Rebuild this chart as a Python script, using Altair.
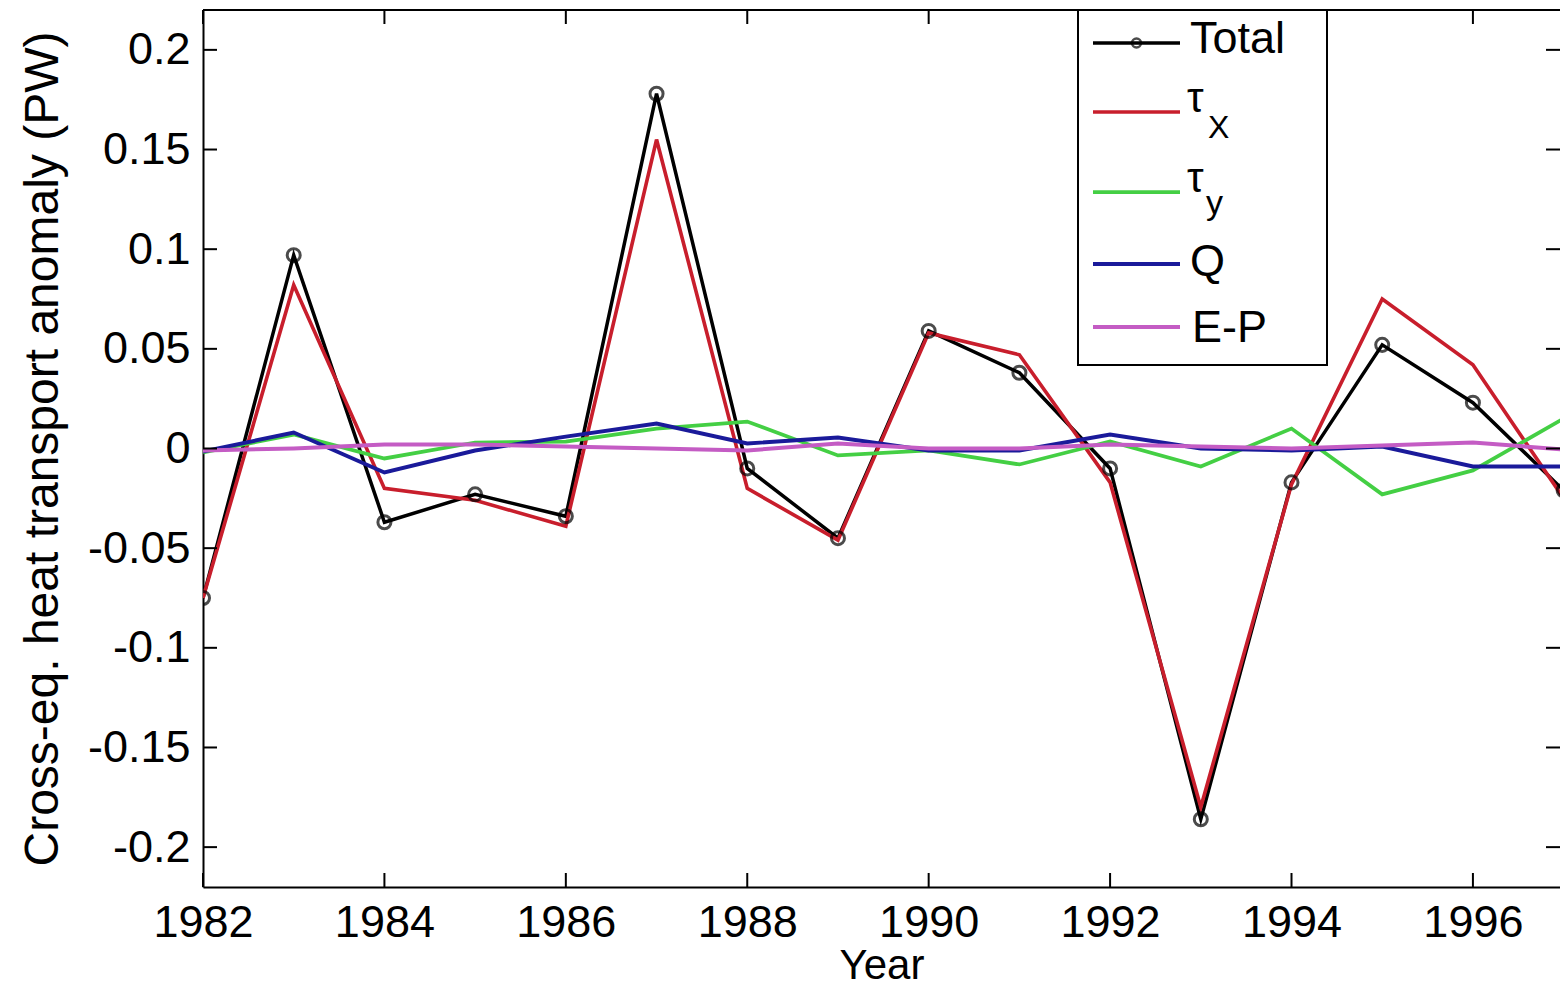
import altair as alt
import pandas as pd

# ---------------- data ----------------
years = list(range(1982, 1998))
total = [-0.075, 0.097, -0.037, -0.023, -0.034, 0.178, -0.010, -0.045,
         0.059, 0.038, -0.010, -0.186, -0.017, 0.052, 0.023, -0.021]
tau_x = [-0.075, 0.082, -0.020, -0.026, -0.039, 0.155, -0.020, -0.046,
         0.058, 0.047, -0.017, -0.180, -0.018, 0.075, 0.042, -0.025]
tau_y = [-0.002, 0.007, -0.005, 0.003, 0.0035, 0.010, 0.0135, -0.0035,
         -0.001, -0.008, 0.0035, -0.009, 0.010, -0.023, -0.011, 0.015]
q_flux = [-0.0015, 0.008, -0.012, -0.001, 0.006, 0.0125, 0.0025, 0.0055,
          -0.001, -0.001, 0.007, 0.0, -0.001, 0.001, -0.009, -0.009]
e_minus_p = [-0.001, 0.0, 0.002, 0.002, 0.001, 0.0, -0.001, 0.0025,
             0.0, 0.0, 0.002, 0.001, 0.0, 0.0015, 0.003, -0.0005]

series_names = ["Total", "tau_x", "tau_y", "Q", "E-P"]
series_values = [total, tau_x, tau_y, q_flux, e_minus_p]

x_ticks = list(range(1982, 1997, 2))
y_ticks = [-0.2, -0.15, -0.1, -0.05, 0, 0.05, 0.1, 0.15, 0.2]

# ---------------- styles / layout ----------------
series_colors = ["#000000", "#c81e2c", "#44cf44", "#1a1a9a", "#c45cc4"]
series_widths = [3.5, 4, 4, 4, 2]
FONT = "Liberation Sans"
FS = 45
W, H = 1357, 877
TICK = 14

rows = []
for name, vals in zip(series_names, series_values):
    for yr, v in zip(years, vals):
        rows.append({"year": yr, "value": v, "series": name})
df = pd.DataFrame(rows)
df_total = df[df.series == "Total"]

xs = alt.Scale(domain=[1982, 1996.96], nice=False, zero=False)
ys = alt.Scale(domain=[-0.22, 0.22], nice=False, zero=False)
cs = alt.Scale(domain=series_names, range=series_colors)
ws = alt.Scale(domain=series_names, range=series_widths)

x_axis = alt.Axis(values=x_ticks, format="d", ticks=False, tickSize=0, grid=False,
                  domain=True, domainColor="black", domainWidth=2,
                  labelFont=FONT, labelFontSize=FS, labelColor="black",
                  labelPadding=13, labelFlush=False,
                  title="Year", titleFont=FONT, titleFontSize=42,
                  titleFontWeight="normal", titleColor="black", titlePadding=0)
y_axis = alt.Axis(values=y_ticks, labelExpr="'' + datum.value", ticks=False, tickSize=0,
                  grid=False, domain=True, domainColor="black", domainWidth=2,
                  labelFont=FONT, labelFontSize=FS, labelColor="black",
                  labelPadding=13, labelFlush=False,
                  title="Cross-eq. heat transport anomaly (PW)", titleFont=FONT,
                  titleFontSize=48, titleFontWeight="normal", titleColor="black",
                  titlePadding=20)

lines = alt.Chart(df).mark_line(clip=True).encode(
    x=alt.X("year:Q", scale=xs, axis=x_axis),
    y=alt.Y("value:Q", scale=ys, axis=y_axis),
    color=alt.Color("series:N", scale=cs, legend=None),
    strokeWidth=alt.StrokeWidth("series:N", scale=ws, legend=None),
    order=alt.Order("year:Q"),
)

points = alt.Chart(df_total).mark_point(
    clip=True, filled=False, size=170, strokeWidth=3, color="black"
).encode(x=alt.X("year:Q", scale=xs), y=alt.Y("value:Q", scale=ys))

xt = pd.DataFrame({"year": x_ticks})
yt = pd.DataFrame({"value": y_ticks})
tick_style = dict(color="black", strokeWidth=2)

bottom_ticks = alt.Chart(xt).mark_rule(**tick_style).encode(
    x=alt.X("year:Q", scale=xs), y=alt.value(H), y2=alt.value(H - TICK))
top_ticks = alt.Chart(xt).mark_rule(**tick_style).encode(
    x=alt.X("year:Q", scale=xs), y=alt.value(0), y2=alt.value(TICK))
left_ticks = alt.Chart(yt).mark_rule(**tick_style).encode(
    y=alt.Y("value:Q", scale=ys), x=alt.value(0), x2=alt.value(TICK))
right_ticks = alt.Chart(yt).mark_rule(**tick_style).encode(
    y=alt.Y("value:Q", scale=ys), x=alt.value(W - TICK), x2=alt.value(W))

frame_df = pd.DataFrame({"a": [0]})
top_frame = alt.Chart(frame_df).mark_rule(color="black", strokeWidth=2).encode(
    x=alt.value(0), x2=alt.value(W), y=alt.value(0))

# ---------------- legend (manual, to allow subscripts) ----------------
leg_df = pd.DataFrame({"series": series_names})
leg_line_y = [33, 102, 182, 254, 317]
LX0, LX1 = 890, 977

legend_box = alt.Chart(frame_df).mark_rect(
    fill="white", stroke="black", strokeWidth=2
).encode(x=alt.value(875), x2=alt.value(1124), y=alt.value(0), y2=alt.value(355))

legend_layers = [legend_box]
for name, ly in zip(series_names, leg_line_y):
    legend_layers.append(
        alt.Chart(leg_df).transform_filter(alt.datum.series == name).mark_rule().encode(
            x=alt.value(LX0), x2=alt.value(LX1), y=alt.value(ly),
            color=alt.Color("series:N", scale=cs, legend=None),
            strokeWidth=alt.StrokeWidth("series:N", scale=ws, legend=None),
        )
    )

legend_layers.append(
    alt.Chart(leg_df).transform_filter(alt.datum.series == "Total").mark_point(
        filled=False, size=80, strokeWidth=2.5, color="black"
    ).encode(x=alt.value((LX0 + LX1) / 2), y=alt.value(leg_line_y[0]))
)


def leg_text(txt, x, y, size):
    return alt.Chart(frame_df).mark_text(
        text=txt, align="left", baseline="alphabetic", font=FONT,
        fontSize=size, color="black"
    ).encode(x=alt.value(x), y=alt.value(y))


legend_layers += [
    leg_text("Total", 987, 43, FS),
    leg_text("τ", 984, 102, 42),
    leg_text("X", 1005, 128, 32),
    leg_text("τ", 984, 182, 42),
    leg_text("y", 1003, 204, 34),
    leg_text("Q", 987, 266, FS),
    leg_text("E-P", 989, 332, FS),
]

chart = alt.layer(
    lines, points, bottom_ticks, top_ticks, left_ticks, right_ticks, top_frame,
    *legend_layers
).properties(
    width=W, height=H,
    autosize=alt.AutoSizeParams(type="none"),
    padding={"left": 203, "top": 10, "right": 0, "bottom": 102},
).configure_view(stroke=None).configure(background="white")

chart.save("out.html", embed_options={"renderer": "svg", "actions": False})
